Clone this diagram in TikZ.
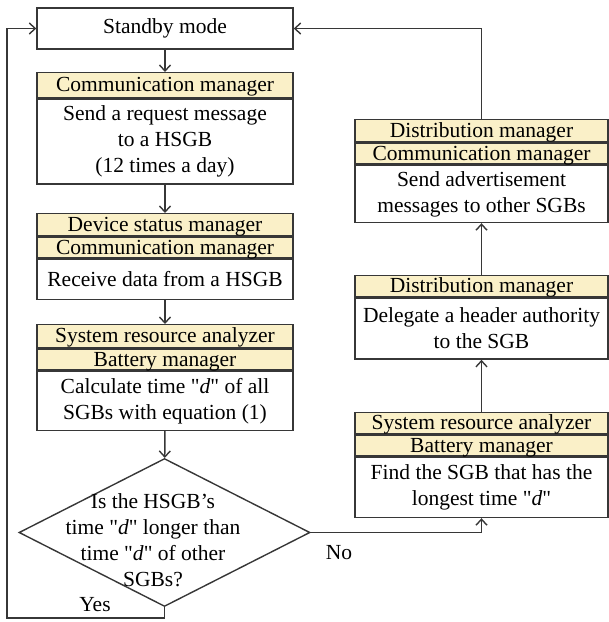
\documentclass[tikz,border=0pt]{standalone}
\usepackage{fontspec}
\setmainfont{Liberation Serif}
\usetikzlibrary{shapes.geometric,arrows.meta}
\definecolor{bandfill}{RGB}{250,240,200}
\definecolor{linegray}{RGB}{55,55,55}
\newcommand{\qd}{\textquotedbl\textit{d}\textquotedbl}

\begin{document}
\begin{tikzpicture}[x=1pt, y=-1pt, line width=1.4pt,
  >={Straight Barb[length=6pt,width=11pt]},
  every node/.style={font=\fontsize{21.5}{26}\selectfont},
  box/.style={draw=linegray, rectangle, minimum width=256, inner sep=0pt, align=center, anchor=north},
  band/.style={box, fill=bandfill, text height=14pt, text depth=1pt},
  rwide/.style={minimum width=253},
  flow/.style={draw=linegray, ->}]
  \useasboundingbox (0,0) rectangle (609,622);

  % left column
  \node[box, minimum height=41, anchor=center] (standby) at (165,28.5) {Standby mode};
  \node[band, minimum height=25] (sendhdr) at (165,72) {Communication manager};
  \node[box, minimum height=85] (sendbody) at (sendhdr.south) {Send a request message\\to a HSGB\\(12 times a day)};
  \node[band, minimum height=22] (recvhdra) at (165,213) {Device status manager};
  \node[band, minimum height=21] (recvhdrb) at (recvhdra.south) {Communication manager};
  \node[box, minimum height=40] (recvbody) at (recvhdrb.south) {Receive data from a HSGB};
  \node[band, minimum height=23] (calchdra) at (165,324) {System resource analyzer};
  \node[band, minimum height=21] (calchdrb) at (calchdra.south) {Battery manager};
  \node[box, minimum height=59] (calcbody) at (calchdrb.south) {Calculate time \qd{} of all\\SGBs with equation (1)};
  \node[draw=linegray, diamond, minimum width=291, minimum height=148, inner sep=0pt] (check) at (164.5,532.5) {};
  \node[align=center] (checktext) at (153,540) {Is the HSGB's\\time \qd{} longer than\\time \qd{} of other\\SGBs?};

  % right column
  \node[band, rwide, minimum height=22] (advhdra) at (481.5,119) {Distribution manager};
  \node[band, rwide, minimum height=21] (advhdrb) at (advhdra.south) {Communication manager};
  \node[box, rwide, minimum height=57] (advbody) at (advhdrb.south) {Send advertisement\\messages to other SGBs};
  \node[band, rwide, minimum height=21] (delhdr) at (481.5,275) {Distribution manager};
  \node[box, rwide, minimum height=61] (delbody) at (delhdr.south) {Delegate a header authority\\to the SGB};
  \node[band, rwide, minimum height=21] (findhdra) at (481.5,412) {System resource analyzer};
  \node[band, rwide, minimum height=21] (findhdrb) at (findhdra.south) {Battery manager};
  \node[box, rwide, minimum height=60] (findbody) at (findhdrb.south) {Find the SGB that has the\\longest time \qd};

  \coordinate (yesturn) at (7,618);
  \node (yes) at (95,605) {Yes};
  \node (no) at (339,553) {No};

  \draw[flow] (standby) -- (sendhdr);
  \draw[flow] (sendbody) -- (recvhdra);
  \draw[flow] (recvbody) -- (calchdra);
  \draw[flow] (calcbody) -- (check);
  \draw[flow] (check.south) |- (yesturn) |- (standby.west);
  \draw[flow] (check.east) -| (findbody.south);
  \draw[flow] (findhdra) -- (delbody);
  \draw[flow] (delhdr) -- (advbody);
  \draw[flow] (advhdra.north) |- (standby.east);
\end{tikzpicture}
\end{document}
